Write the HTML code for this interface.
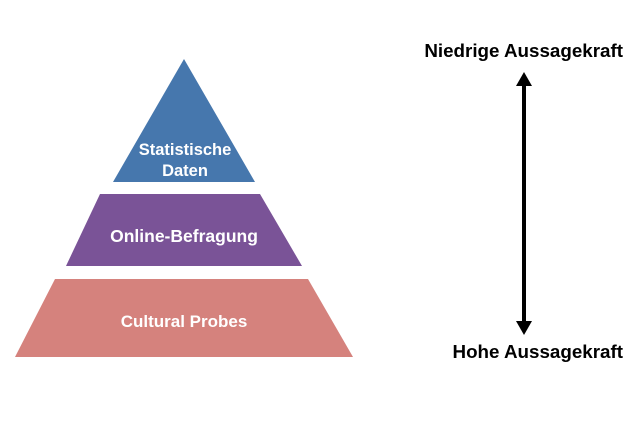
<!DOCTYPE html>
<html><head><meta charset="utf-8"><style>
html,body{margin:0;padding:0;background:#fff;width:637px;height:422px;overflow:hidden}
</style></head><body>
<svg width="637" height="422" viewBox="0 0 637 422" xmlns="http://www.w3.org/2000/svg" font-family="'Liberation Sans', sans-serif" font-weight="bold">
<polygon points="184,59 255,182 113,182" fill="#4677ad"/>
<polygon points="100,194 260,194 302,266 66,266" fill="#7a5397"/>
<polygon points="55,279 308,279 353,357 15,357" fill="#d5827d"/>
<g fill="#fff" text-anchor="middle">
<text x="185" y="155" font-size="16.5">Statistische</text>
<text x="185" y="176" font-size="16.5">Daten</text>
<text x="184" y="242" font-size="17.5">Online-Befragung</text>
<text x="184" y="327" font-size="17">Cultural Probes</text>
</g>
<line x1="524" y1="84" x2="524" y2="322" stroke="#000" stroke-width="4"/>
<polygon points="524,72 532,86 516,86" fill="#000"/>
<polygon points="524,335 532,321 516,321" fill="#000"/>
<g fill="#000" font-size="18.8" text-anchor="end">
<text x="623" y="57">Niedrige Aussagekraft</text>
<text x="623" y="358">Hohe Aussagekraft</text>
</g>
</svg>
</body></html>
